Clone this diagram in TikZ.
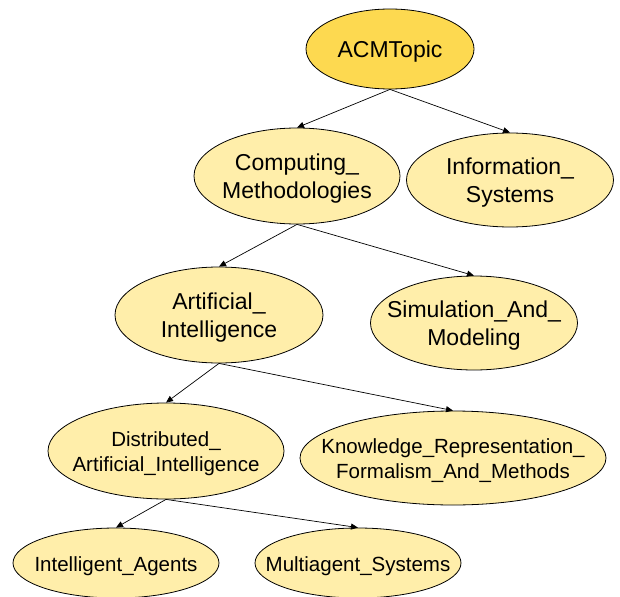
\documentclass[tikz,border=0pt]{standalone}
\usepackage{fontspec}
\setmainfont{Liberation Sans}
\usetikzlibrary{shapes.geometric,arrows.meta}
\definecolor{topfill}{RGB}{253,217,80}
\definecolor{nodefill}{RGB}{255,238,170}
\begin{document}
\begin{tikzpicture}[x=1pt,y=-1pt,
  topic/.style={ellipse,draw=black,line width=0.8pt,fill=nodefill,inner sep=0pt},
  big/.style={align=center,yshift=-3pt,font=\fontsize{23}{28}\selectfont},
  small/.style={align=center,yshift=-3pt,font=\fontsize{20.5}{25}\selectfont},
  link/.style={-{Triangle[length=7pt,width=6pt]},line width=0.7pt}]
\useasboundingbox (0,0) rectangle (620,596);
% level 0
\node[topic,fill=topfill,minimum width=168pt,minimum height=80pt] (acm) at (390,49) {};
\node[big] (acmt) at (acm.center) {ACMTopic};
% level 1
\node[topic,minimum width=206pt,minimum height=96pt] (cm) at (297,176) {};
\node[big] (cmt) at (cm.center) {Computing\_\\Methodologies};
\node[topic,minimum width=207pt,minimum height=94pt] (is) at (510,180) {};
\node[big] (ist) at (is.center) {Information\_\\Systems};
% level 2
\node[topic,minimum width=208pt,minimum height=96pt] (ai) at (219,315) {};
\node[big] (ait) at (ai.center) {Artificial\_\\Intelligence};
\node[topic,minimum width=207pt,minimum height=94pt] (sm) at (474,323) {};
\node[big] (smt) at (sm.center) {Simulation\_And\_\\Modeling};
% level 3
\node[topic,minimum width=236pt,minimum height=96pt] (dai) at (166,451) {};
\node[small] (dait) at (dai.center) {Distributed\_\\Artificial\_Intelligence};
\node[topic,minimum width=306pt,minimum height=94pt] (kr) at (453,458) {};
\node[small] (krt) at (kr.center) {Knowledge\_Representation\_\\Formalism\_And\_Methods};
% level 4
\node[topic,minimum width=206pt,minimum height=70pt] (ia) at (116,563) {};
\node[small] (iat) at (ia.center) {Intelligent\_Agents};
\node[topic,minimum width=206pt,minimum height=70pt] (mas) at (358,563) {};
\node[small] (mast) at (mas.center) {Multiagent\_Systems};
% connectors
\draw[link] (acm.south) -- (cm.north);
\draw[link] (acm.south) -- (is.north);
\draw[link] (cm.south) -- (ai.north);
\draw[link] (cm.south) -- (sm.north);
\draw[link] (ai.south) -- (dai.north);
\draw[link] (ai.south) -- (kr.north);
\draw[link] (dai.south) -- (ia.north);
\draw[link] (dai.south) -- (mas.north);
\end{tikzpicture}
\end{document}
